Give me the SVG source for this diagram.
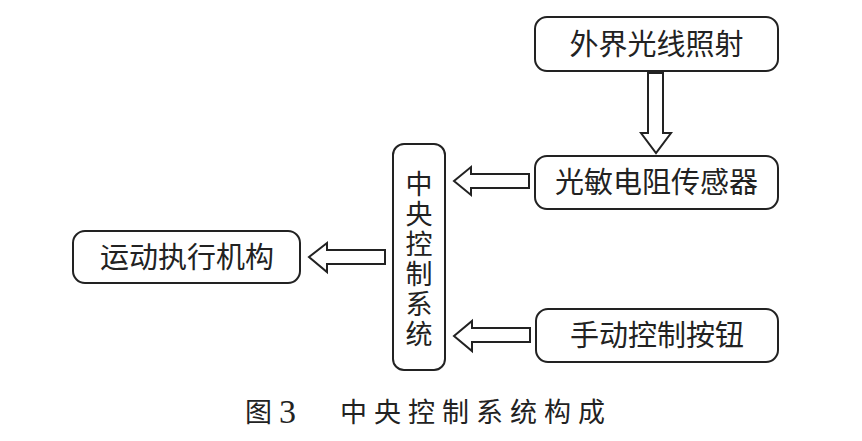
<svg xmlns="http://www.w3.org/2000/svg" width="862" height="441" viewBox="0 0 862 441">
<style>
.box{fill:#fff;stroke:#222;stroke-width:2}
.arr{fill:#fff;stroke:#222;stroke-width:2;stroke-linejoin:miter}
.t{font-family:"Noto Sans CJK SC","Noto Sans",sans-serif;font-size:29px;fill:#222;text-anchor:middle}
.v{font-family:"Noto Sans CJK SC","Noto Sans",sans-serif;font-size:27px;fill:#222;writing-mode:vertical-rl;letter-spacing:3px}
.cap{font-family:"Liberation Serif","Noto Sans CJK SC",serif;font-size:27px;fill:#222}
</style>
<rect width="862" height="441" fill="#fff"/>
<g id="light">
<rect class="box" x="535" y="17" width="243" height="54" rx="12"/>
<text class="t" x="656.5" y="55">外界光线照射</text>
</g>
<g id="sensor">
<rect class="box" x="535" y="156" width="243" height="53" rx="12"/>
<text class="t" x="656.5" y="193">光敏电阻传感器</text>
</g>
<g id="button">
<rect class="box" x="536" y="309" width="242" height="53" rx="12"/>
<text class="t" x="657" y="346">手动控制按钮</text>
</g>
<g id="central">
<rect class="box" x="393" y="144" width="52" height="226" rx="11"/>
<text class="v" x="419" y="170">中央控制系统</text>
</g>
<g id="motion">
<rect class="box" x="73" y="231" width="227" height="52" rx="12"/>
<text class="t" x="187" y="268">运动执行机构</text>
</g>
<g id="connectors">
<polygon class="arr" points="648,73 663,73 663,133 671,133 656,153 641,133 648,133"/>
<polygon class="arr" points="529,174 529,188 471,188 471,195 454,181 471,167 471,174"/>
<polygon class="arr" points="385,250 385,264 327,264 327,272 309,257 327,243 327,250"/>
<polygon class="arr" points="530,328 530,342 472,342 472,351 454,336 472,321 472,328"/>
</g>
<g id="caption">
<text class="cap" x="245" y="422">图</text>
<text class="cap" x="279" y="423" style="font-size:34px">3</text>
<text class="cap" x="340" y="422" letter-spacing="7">中央控制系统构成</text>
</g>
</svg>
